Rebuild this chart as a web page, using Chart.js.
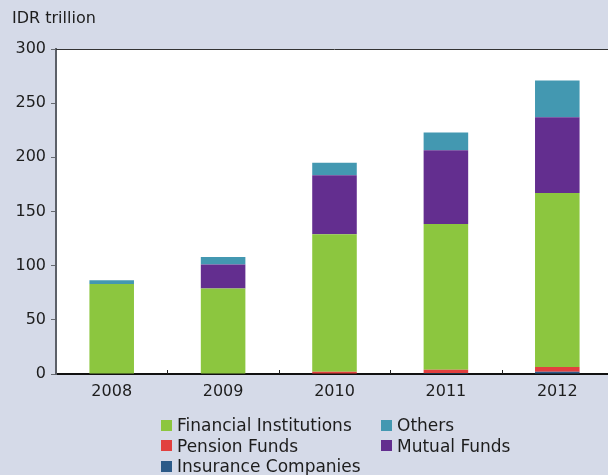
<!DOCTYPE html>
<html>
<head>
<meta charset="utf-8">
<script src="https://cdn.jsdelivr.net/npm/chart.js@4.4.0/dist/chart.umd.min.js"></script>
<style>
  html, body { margin: 0; padding: 0; background: #d5dae8; overflow: hidden; }
  #wrap { position: absolute; left: 0; top: 0; width: 614px; height: 475px; }
  #unit { position: absolute; left: 12px; top: 8px; font: 16px "DejaVu Sans", sans-serif; color: #1d1d1d; }
  #legend { position: absolute; left: 161px; top: 415px; display: grid;
            grid-template-columns: 220px auto; grid-auto-rows: 20.5px;
            font: 17px "DejaVu Sans", sans-serif; color: #1d1d1d; }
  #legend .item { display: flex; align-items: center; white-space: nowrap; }
  #legend .box { width: 11px; height: 11px; margin-right: 5px; }
</style>
</head>
<body>
<div id="wrap">
  <canvas id="chart" width="614" height="475"></canvas>
  <div id="unit">IDR trillion</div>
  <div id="legend"></div>
</div>
<script>
// Categories and series (IDR trillion)
const years = ['2008', '2009', '2010', '2011', '2012'];
const insurance = [0, 0, 0, 1, 2];
const pension = [0, 0, 2, 3, 4.5];
const financial = [83, 79, 127, 134.5, 160.5];
const mutual = [0, 22, 54.5, 68, 70];
const others = [3.5, 7, 11.5, 16.5, 34];
const yTicks = [0, 50, 100, 150, 200, 250, 300];

// Stack order bottom to top
const series = [
    { label: 'Insurance Companies', data: insurance, color: '#2c5a88' },
    { label: 'Pension Funds', data: pension, color: '#e2403f' },
    { label: 'Financial Institutions', data: financial, color: '#8cc63f' },
    { label: 'Mutual Funds', data: mutual, color: '#632e8f' },
    { label: 'Others', data: others, color: '#4398b1' }
];

// Legend order as in the source (two columns)
const legendOrder = ['Financial Institutions', 'Others', 'Pension Funds', 'Mutual Funds', 'Insurance Companies'];

/**
 * White plot area, top frame line and inner category ticks
 */
const plotFrame = {
    id: 'plotFrame',
    beforeDraw(chart) {
        const { ctx, chartArea } = chart;
        ctx.save();
        ctx.fillStyle = '#ffffff';
        ctx.fillRect(chartArea.left, chartArea.top, chartArea.right - chartArea.left, chartArea.bottom - chartArea.top);
        ctx.restore();
    },
    afterDraw(chart) {
        const { ctx, chartArea } = chart;
        const x = chart.scales.x;
        ctx.save();
        ctx.strokeStyle = '#333333';
        ctx.lineWidth = 1;
        ctx.beginPath();
        ctx.moveTo(chartArea.left, chartArea.top + 0.5);
        ctx.lineTo(chartArea.right, chartArea.top + 0.5);
        ctx.stroke();
        // separators between categories, pointing up from the baseline
        ctx.strokeStyle = '#222222';
        for (let i = 0; i < years.length - 1; i++) {
            const px = Math.round((x.getPixelForValue(i) + x.getPixelForValue(i + 1)) / 2) + 0.5;
            ctx.beginPath();
            ctx.moveTo(px, chartArea.bottom);
            ctx.lineTo(px, chartArea.bottom - 4);
            ctx.stroke();
        }
        ctx.restore();
    }
};

const ctx = document.getElementById('chart').getContext('2d');
new Chart(ctx, {
    type: 'bar',
    data: {
        labels: years,
        datasets: series.map(s => ({
            label: s.label,
            data: s.data,
            backgroundColor: s.color,
            borderWidth: 0,
            barPercentage: 0.4,
            categoryPercentage: 1.0
        }))
    },
    options: {
        responsive: false,
        animation: false,
        layout: { padding: { top: 49, right: 1, left: 0, bottom: 0 } },
        plugins: { legend: { display: false }, tooltip: { enabled: false } },
        scales: {
            x: {
                stacked: true,
                grid: { display: false },
                border: { display: true, color: '#111111', width: 2 },
                ticks: { color: '#1d1d1d', font: { family: 'DejaVu Sans', size: 16 }, padding: 0 },
                afterFit(scale) { scale.height = 101; }
            },
            y: {
                stacked: true,
                min: 0,
                max: 300,
                afterBuildTicks(scale) { scale.ticks = yTicks.map(v => ({ value: v })); },
                grid: { drawOnChartArea: false, tickLength: 5, color: '#666a70' },
                border: { display: true, color: '#5c6068', width: 2 },
                ticks: { color: '#1d1d1d', font: { family: 'DejaVu Sans', size: 16 }, padding: 5 },
                afterFit(scale) { scale.width = 56; }
            }
        }
    },
    plugins: [plotFrame]
});

// HTML legend
const legend = document.getElementById('legend');
legendOrder.forEach(name => {
    const s = series.find(d => d.label === name);
    const item = document.createElement('div');
    item.className = 'item';
    item.innerHTML = `<span class="box" style="background:${s.color}"></span><span>${s.label}</span>`;
    legend.appendChild(item);
});
</script>
</body>
</html>
